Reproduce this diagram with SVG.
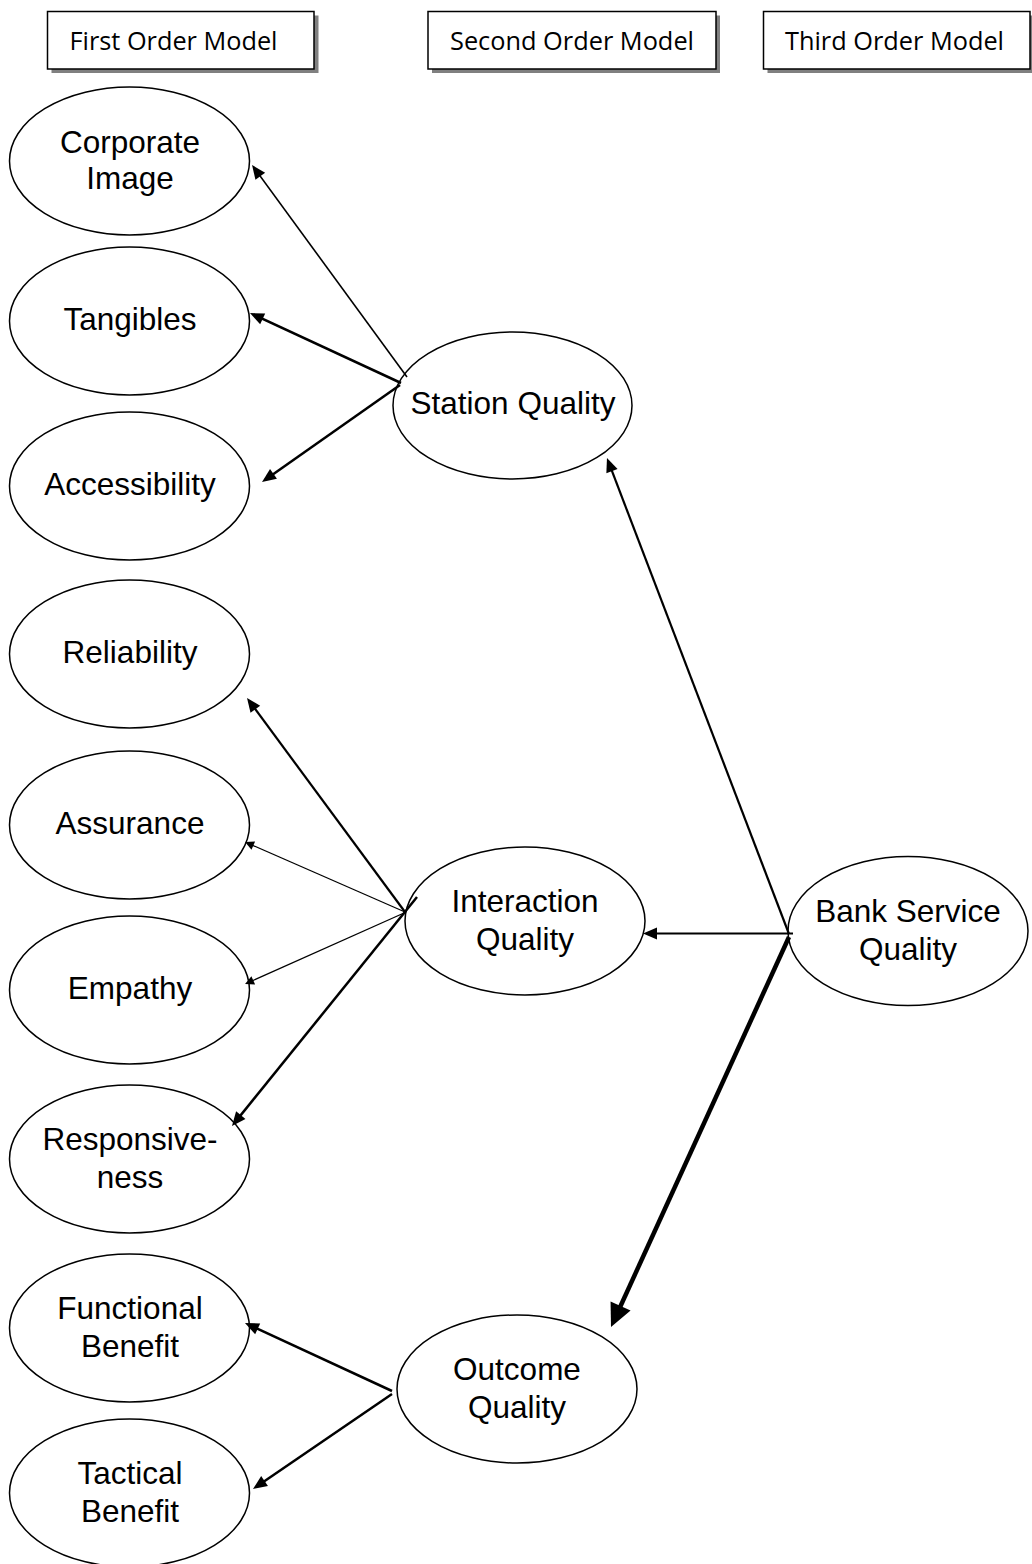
<svg xmlns="http://www.w3.org/2000/svg" width="1032" height="1564" viewBox="0 0 1032 1564">
<style>
.hdr{fill:#fff;stroke:#000;stroke-width:1.5}
.shd{fill:#808080}
.htx{font-family:"Open Sans","Liberation Sans",sans-serif;font-size:26px;fill:#000}
.nd{fill:#fff;stroke:#000;stroke-width:1.5}
.tx{font-family:"Liberation Sans",Arial,sans-serif;font-size:31.5px;fill:#000;text-anchor:middle}
.c{fill:none;stroke:#000;stroke-linecap:butt}
</style>
<defs>
<marker id="am" markerUnits="userSpaceOnUse" viewBox="-20 -10 30 20" markerWidth="30" markerHeight="20" refX="-4" refY="0" orient="auto" overflow="visible"><path d="M0,0 L-14,-6 L-14,6 z" fill="#000"/></marker>
<marker id="as" markerUnits="userSpaceOnUse" viewBox="-20 -10 30 20" markerWidth="30" markerHeight="20" refX="-4" refY="0" orient="auto" overflow="visible"><path d="M0,0 L-9,-4.5 L-9,4.5 z" fill="#000"/></marker>
<marker id="ab" markerUnits="userSpaceOnUse" viewBox="-30 -15 40 30" markerWidth="40" markerHeight="30" refX="-6" refY="0" orient="auto" overflow="visible"><path d="M0,0 L-23,-11 L-23,11 z" fill="#000"/></marker>
</defs>

<g id="hdr-first">
<rect class="shd" x="51.5" y="15.5" width="267" height="57.5"/>
<rect class="hdr" x="47.5" y="11.5" width="266.5" height="57.5"/>
<text class="htx" x="69.5" y="49.5" textLength="208" lengthAdjust="spacingAndGlyphs">First Order Model</text>
</g>
<g id="hdr-second">
<rect class="shd" x="432" y="15.5" width="288" height="57.5"/>
<rect class="hdr" x="428" y="11.5" width="288" height="57.5"/>
<text class="htx" x="450" y="49.5" textLength="244" lengthAdjust="spacingAndGlyphs">Second Order Model</text>
</g>
<g id="hdr-third">
<rect class="shd" x="767.5" y="15.5" width="267" height="57.5"/>
<rect class="hdr" x="763.5" y="11.5" width="266.5" height="57.5"/>
<text class="htx" x="785" y="49.5" textLength="219" lengthAdjust="spacingAndGlyphs">Third Order Model</text>
</g>

<g id="n-corporate"><ellipse class="nd" cx="129.5" cy="161" rx="120" ry="74"/><text class="tx" x="130" y="153">Corporate</text><text class="tx" x="130" y="189">Image</text></g>
<g id="n-tangibles"><ellipse class="nd" cx="129.5" cy="321" rx="120" ry="74"/><text class="tx" x="130" y="330">Tangibles</text></g>
<g id="n-accessibility"><ellipse class="nd" cx="129.5" cy="486" rx="120" ry="74"/><text class="tx" x="130" y="495">Accessibility</text></g>
<g id="n-reliability"><ellipse class="nd" cx="129.5" cy="654" rx="120" ry="74"/><text class="tx" x="130" y="663">Reliability</text></g>
<g id="n-assurance"><ellipse class="nd" cx="129.5" cy="825" rx="120" ry="74"/><text class="tx" x="130" y="834">Assurance</text></g>
<g id="n-empathy"><ellipse class="nd" cx="129.5" cy="990" rx="120" ry="74"/><text class="tx" x="130" y="999">Empathy</text></g>
<g id="n-responsiveness"><ellipse class="nd" cx="129.5" cy="1159" rx="120" ry="74"/><text class="tx" x="130" y="1150">Responsive-</text><text class="tx" x="130" y="1188">ness</text></g>
<g id="n-functional"><ellipse class="nd" cx="129.5" cy="1328" rx="120" ry="74"/><text class="tx" x="130" y="1319">Functional</text><text class="tx" x="130" y="1357">Benefit</text></g>
<g id="n-tactical"><ellipse class="nd" cx="129.5" cy="1493" rx="120" ry="74"/><text class="tx" x="130" y="1484">Tactical</text><text class="tx" x="130" y="1522">Benefit</text></g>

<g id="n-station"><ellipse class="nd" cx="512.5" cy="405.5" rx="119.5" ry="73.5"/><text class="tx" x="513" y="414">Station Quality</text></g>
<g id="n-interaction"><ellipse class="nd" cx="525" cy="921" rx="120" ry="74"/><text class="tx" x="525" y="912">Interaction</text><text class="tx" x="525" y="950">Quality</text></g>
<g id="n-outcome"><ellipse class="nd" cx="517" cy="1389" rx="120" ry="74"/><text class="tx" x="517" y="1380">Outcome</text><text class="tx" x="517" y="1418">Quality</text></g>
<g id="n-bank"><ellipse class="nd" cx="908" cy="931" rx="120" ry="74.5"/><text class="tx" x="908" y="922">Bank Service</text><text class="tx" x="908" y="960">Quality</text></g>

<g id="connectors">
<path class="c" stroke-width="1.6" marker-end="url(#am)" d="M407,377 L254.4,168.2"/>
<path class="c" stroke-width="2.5" marker-end="url(#am)" d="M401,383 L253.6,314.7"/>
<path class="c" stroke-width="2.5" marker-end="url(#am)" d="M400,385 L265.3,479.7"/>
<path class="c" stroke-width="2.2" marker-end="url(#am)" d="M405,912 L249.4,701.2"/>
<path class="c" stroke-width="1.2" marker-end="url(#as)" d="M405,912 L248.7,843.6"/>
<path class="c" stroke-width="1.2" marker-end="url(#as)" d="M404,913 L248.7,982.4"/>
<path class="c" stroke-width="2.5" marker-end="url(#am)" d="M417,897 L234.5,1122.9"/>
<path class="c" stroke-width="2.2" marker-end="url(#am)" d="M789,934 L608.4,461.7"/>
<path class="c" stroke-width="2.2" marker-end="url(#am)" d="M793,933.5 L647,933.5"/>
<path class="c" stroke-width="4.5" marker-end="url(#ab)" d="M789,937 L613.5,1321.5"/>
<path class="c" stroke-width="2.5" marker-end="url(#am)" d="M392,1391 L248.6,1324.7"/>
<path class="c" stroke-width="2.5" marker-end="url(#am)" d="M392,1394 L256.3,1486.7"/>
</g>
</svg>
